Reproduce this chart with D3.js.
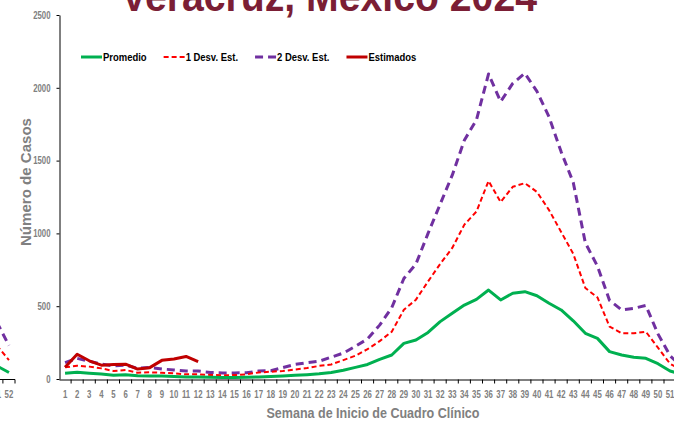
<!DOCTYPE html>
<html><head><meta charset="utf-8">
<script src="https://cdn.jsdelivr.net/npm/d3@7"></script>
<style>body{margin:0;background:#fff;overflow:hidden} svg{display:block}</style>
</head><body>
<svg id="c" width="674" height="424"></svg>
<script>
// ---- data ----
const weeks = d3.range(1, 53);
const yTicks = [0, 500, 1000, 1500, 2000, 2500];
const promedio = [39,46,40,34,25,30,23,21,20,17,14,14,12,11,11,12,14,17,21,25,30,36,45,60,80,100,135,165,245,268,320,394,451,508,547,611,543,589,600,572,520,474,400,314,279,188,165,149,142,105,55,30];
const desv1 = [80,91,85,73,55,62,43,46,43,39,32,32,28,26,27,32,45,50,55,65,75,90,100,130,160,205,260,325,475,545,670,790,900,1060,1150,1360,1215,1320,1345,1285,1160,1010,860,625,560,360,314,314,325,215,105,60];
const desv2 = [112,142,122,103,90,96,73,80,69,62,55,55,45,42,42,43,55,57,78,100,112,122,150,178,225,275,370,490,690,790,1000,1200,1400,1640,1780,2095,1905,2030,2100,1975,1800,1560,1350,935,775,540,475,485,505,310,160,80];
const estimadosWeeks = [1,2,3,4,5,6,7,8,9,10,11,12];
const estimados = [80,170,125,95,100,102,68,78,128,138,155,120];
// remnant of the neighbouring (previous) chart, visible at the left edge
const prevWeeks = [51, 52];
const prevPromedio = [90, 45];
const prevDesv1 = [230, 130];
const prevDesv2 = [390, 230];
const titleText = "Veracruz, México 2024";
const yLabel = "Número de Casos";
const xLabel = "Semana de Inicio de Cuadro Clínico";
const seriesNames = ["Promedio", "1 Desv. Est.", "2 Desv. Est.", "Estimados"];

// ---- styles ----
const styles = {
  "Promedio":     {color: "#00b050", width: 3,   dash: null},
  "1 Desv. Est.": {color: "#ff0000", width: 2,   dash: "5,3"},
  "2 Desv. Est.": {color: "#7030a0", width: 3,   dash: "8,5"},
  "Estimados":    {color: "#c00000", width: 3,   dash: null}
};
const tickFont = "'Liberation Sans',Arial,sans-serif";
const labelFont = "'Liberation Sans',Arial,sans-serif";
const squeeze = 0.78;

const svg = d3.select("#c");
const step = 12.1;
const x = d3.scaleBand().domain(weeks).range([59, 59 + 52 * step]);
const y = d3.scaleLinear().domain([0, 2500]).range([379, 15]);
const cx = w => x(w) + x.bandwidth() / 2;

function fitWidth(sel, target) {
  sel.attr("textLength", target).attr("lengthAdjust", "spacingAndGlyphs");
}

// title (cropped at top)
const title = svg.append("text").text(titleText)
  .attr("x", 329).attr("y", 10.5).attr("text-anchor", "middle")
  .attr("font-family", labelFont).attr("font-weight", "bold")
  .attr("font-size", 42).attr("fill", "#7b1e35");
fitWidth(title, 416);

// previous chart remnant
const px = d3.scaleBand().domain(weeks).range([15 - 52 * step, 15]);
const pcx = w => px(w) + px.bandwidth() / 2;
const prevG = svg.append("g");
prevG.append("line").attr("x1", -10).attr("x2", 15).attr("y1", 379.5).attr("y2", 379.5).attr("stroke", "#000");
prevG.selectAll("line.pt").data(prevWeeks).join("line").attr("class", "pt")
  .attr("x1", d => px(d) + px.bandwidth()).attr("x2", d => px(d) + px.bandwidth())
  .attr("y1", 379.5).attr("y2", 383.5).attr("stroke", "#000");
prevG.selectAll("text").data(prevWeeks).join("text").text(d => d)
  .attr("transform", d => `translate(${pcx(d)},398) scale(${squeeze},1)`).attr("text-anchor", "middle")
  .attr("font-family", tickFont).attr("font-weight", "bold").attr("font-size", 10).attr("fill", "#808080");
[["2 Desv. Est.", prevDesv2], ["1 Desv. Est.", prevDesv1], ["Promedio", prevPromedio]].forEach(([n, vals]) => {
  const s = styles[n];
  prevG.append("path").datum(prevWeeks.map((w, i) => [w, vals[i]]))
    .attr("d", d3.line().x(d => pcx(d[0])).y(d => y(d[1])))
    .attr("fill", "none").attr("stroke", s.color).attr("stroke-width", s.width)
    .attr("stroke-dasharray", s.dash);
});

// y axis
const yAxis = svg.append("g").attr("transform", "translate(59.5,0)")
  .call(d3.axisLeft(y).tickValues(yTicks).tickFormat(d3.format("d")).tickSize(3).tickSizeOuter(0).tickPadding(6));
yAxis.select(".domain").attr("stroke", "#000");
yAxis.selectAll(".tick line").attr("stroke", "#000");
yAxis.selectAll(".tick text").attr("x", -9 / squeeze).attr("transform", `scale(${squeeze},1)`)
  .attr("font-family", tickFont).attr("font-weight", "bold")
  .attr("font-size", 10).attr("fill", "#808080");

// x axis
const xAxis = svg.append("g").attr("transform", "translate(0,379.5)")
  .call(d3.axisBottom(x).tickSize(0).tickPadding(11));
xAxis.select(".domain").attr("stroke", "#000");
xAxis.selectAll(".tick text").attr("transform", `scale(${squeeze},1)`)
  .attr("font-family", tickFont).attr("font-weight", "bold")
  .attr("font-size", 10).attr("fill", "#808080");
xAxis.selectAll("line.bt").data(weeks).join("line").attr("class", "bt")
  .attr("x1", d => x(d) + x.bandwidth()).attr("x2", d => x(d) + x.bandwidth())
  .attr("y1", 0).attr("y2", 4).attr("stroke", "#000");

// axis titles
const yl = svg.append("text").text(yLabel)
  .attr("transform", "translate(31,182) rotate(-90)").attr("text-anchor", "middle")
  .attr("font-family", labelFont).attr("font-weight", "bold").attr("font-size", 14.5).attr("fill", "#808080");
fitWidth(yl, 128);
const xl = svg.append("text").text(xLabel)
  .attr("x", 373).attr("y", 418).attr("text-anchor", "middle")
  .attr("font-family", labelFont).attr("font-weight", "bold").attr("font-size", 14.5).attr("fill", "#808080");
fitWidth(xl, 213);

// series lines
const line = d3.line().x(d => cx(d[0])).y(d => y(d[1]));
const seriesData = {
  "2 Desv. Est.": weeks.map((w, i) => [w, desv2[i]]),
  "1 Desv. Est.": weeks.map((w, i) => [w, desv1[i]]),
  "Promedio": weeks.map((w, i) => [w, promedio[i]]),
  "Estimados": estimadosWeeks.map((w, i) => [w, estimados[i]])
};
["2 Desv. Est.", "1 Desv. Est.", "Promedio", "Estimados"].forEach(n => {
  const s = styles[n];
  svg.append("path").datum(seriesData[n]).attr("d", line)
    .attr("fill", "none").attr("stroke", s.color).attr("stroke-width", s.width)
    .attr("stroke-dasharray", s.dash).attr("stroke-linejoin", "round");
});

// legend
const lg = svg.append("g");
let lx = 81;
seriesNames.forEach(n => {
  const s = styles[n];
  lg.append("line").attr("x1", lx).attr("x2", lx + 21).attr("y1", 57).attr("y2", 57)
    .attr("stroke", s.color).attr("stroke-width", s.width).attr("stroke-dasharray", s.dash);
  const t = lg.append("text").text(n).attr("x", lx + 22).attr("y", 61)
    .attr("font-family", labelFont).attr("font-weight", "bold").attr("font-size", 11).attr("fill", "#000");
  const w = t.node().getComputedTextLength() * 0.86;
  fitWidth(t, w);
  lx = lx + 22 + w + 17;
});
</script>
</body></html>
